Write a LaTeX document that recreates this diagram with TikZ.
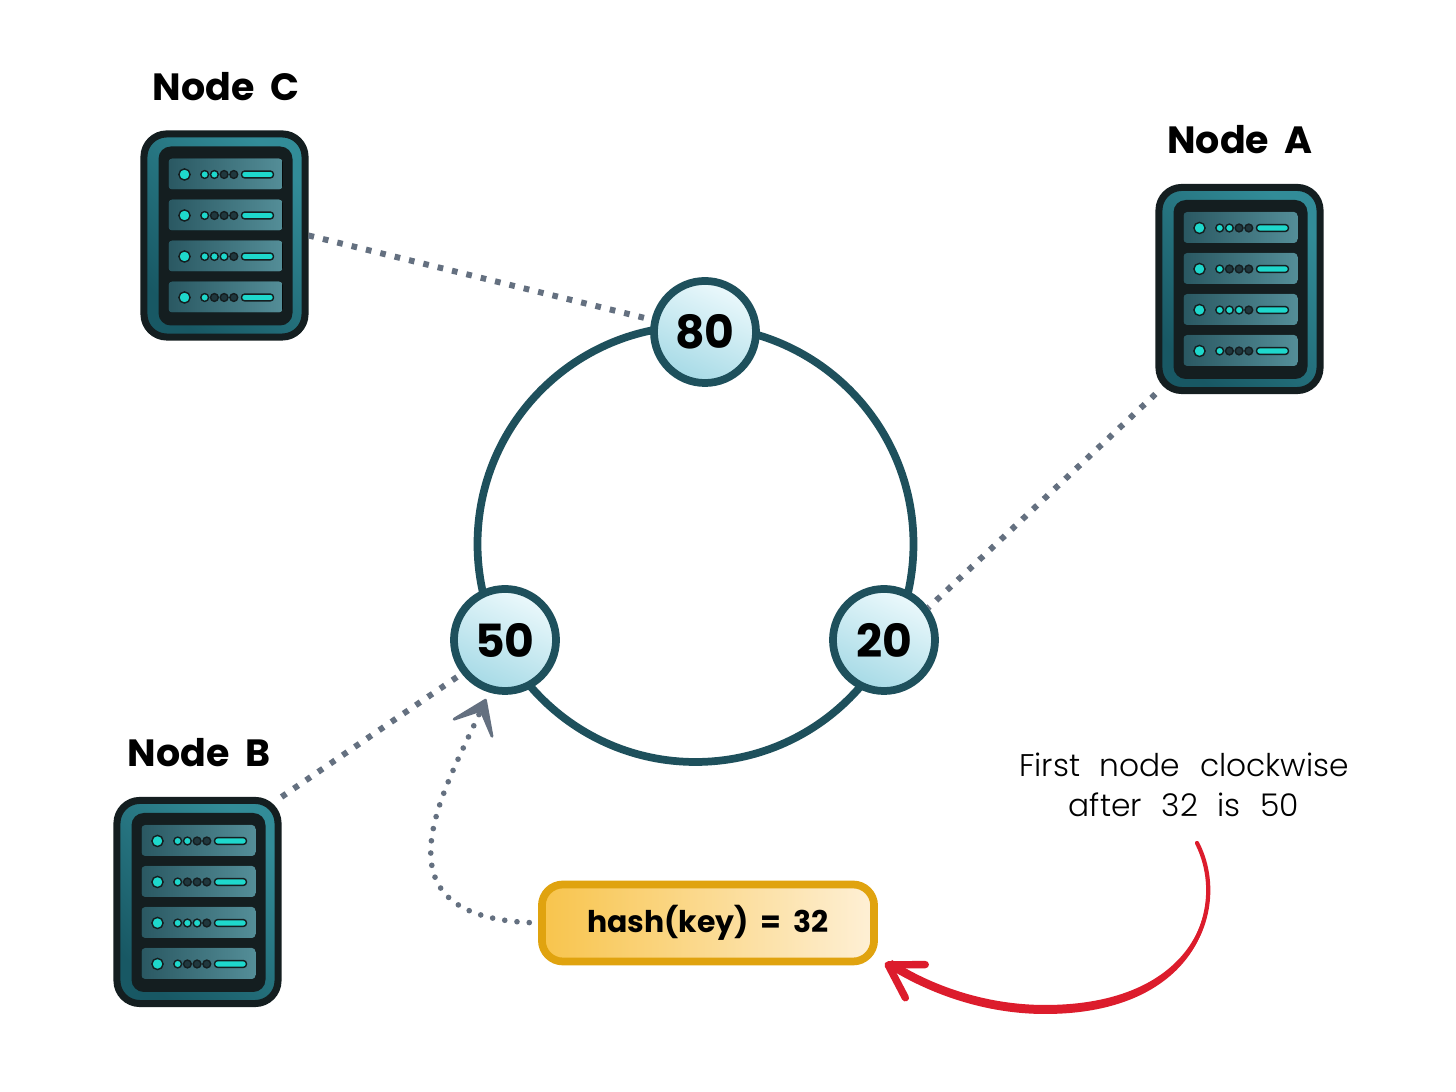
\documentclass[tikz,border=0pt]{standalone}
\usepackage{fontspec}
\setmainfont[WordSpace=1.9]{Poppins}
\newfontfamily\notefont[WordSpace=2.3]{Poppins Light}
\definecolor{ringteal}{RGB}{30,80,92}
\definecolor{linkgray}{RGB}{100,112,128}
\definecolor{rimdark}{RGB}{24,88,100}
\definecolor{rimlight}{RGB}{50,140,152}
\definecolor{rackblack}{RGB}{20,30,32}
\definecolor{unitdark}{RGB}{42,88,98}
\definecolor{unitlight}{RGB}{84,142,152}
\definecolor{ledon}{RGB}{30,216,204}
\definecolor{ledoff}{RGB}{32,56,62}
\definecolor{balllow}{RGB}{166,218,230}
\definecolor{ballhigh}{RGB}{236,249,252}
\definecolor{hashlow}{RGB}{248,196,76}
\definecolor{hashhigh}{RGB}{254,240,214}
\definecolor{hashedge}{RGB}{224,163,15}
\definecolor{notered}{RGB}{220,28,44}
\usetikzlibrary{arrows.meta,positioning,calc}
\tikzset{
  racknode/.style={draw=rackblack,line width=2pt,rounded corners=6.5pt,bottom color=rimdark,top color=rimlight,
    shading angle=-45,minimum width=1.61cm,minimum height=2.03cm,inner sep=0pt},
  ballnode/.style={draw=ringteal,circle,line width=2.2pt,minimum size=1.02cm,inner sep=0pt,
    bottom color=balllow,top color=ballhigh,shading angle=-25,font=\fontsize{13}{13}\selectfont\bfseries},
  titlenode/.style={font=\fontsize{10.8}{12}\selectfont\bfseries,inner sep=0pt},
  linkline/.style={linkgray,line width=1.7pt,dash pattern=on 1.6pt off 2.6pt},
  ledmark/.style={fill=ledon,draw=rackblack,line width=0.4pt},
}
\newcommand{\drawrack}[4]{%
  \node[racknode] (#1) at (#2,#3) {};
  \begin{scope}[shift={(#2,#3)}]
    \fill[rackblack,rounded corners=3.5pt] (-66,-89) rectangle (68,90);
    \foreach \lit [count=\k] in {#4} {
      \pgfmathsetmacro{\yy}{-61+41*(\k-1)}
      \begin{scope}[yshift=-\yy*0.01cm]
        \fill[left color=unitdark,right color=unitlight,rounded corners=1pt] (-56,-16) rectangle (58,15);
        \filldraw[ledmark] (-40,0) circle[radius=5.6];
        \foreach \d in {1,...,4} {
          \ifnum\d>\lit\relax
            \filldraw[ledmark,fill=ledoff] (-29.5+9.7*\d,0) circle[radius=3.9];
          \else
            \filldraw[ledmark] (-29.5+9.7*\d,0) circle[radius=3.9];
          \fi
        }
        \filldraw[ledmark,rounded corners=0.9pt] (17,-3.4) rectangle (49,3.4);
      \end{scope}
    }
  \end{scope}
}

\begin{document}
\begin{tikzpicture}[x=0.01cm,y=-0.01cm]
  \useasboundingbox (0,0) rectangle (1456,1092);
  \fill[white] (0,0) rectangle (1456,1092);
  % Ring
  \coordinate (ringc) at (695.5,544);
  \draw[ringteal,line width=2.2pt] (ringc) circle[radius=218];
  % Servers
  \drawrack{nodeC}{224.5}{235.5}{2,1,3,1}
  \drawrack{nodeA}{1239.5}{289}{2,1,3,1}
  \drawrack{nodeB}{197.5}{902}{2,1,3,1}
  \node[titlenode] (titleC) at (226,87) {Node C};
  \node[titlenode] (titleA) at (1240,140) {Node A};
  \node[titlenode] (titleB) at (199,753) {Node B};
  % Ring positions
  \node[ballnode] (r80) at (705,332) {80};
  \node[ballnode] (r20) at (884,640) {20};
  \node[ballnode] (r50) at (505,640) {50};
  % Dotted links
  \draw[linkline] (nodeC.east) -- (r80.167);
  \draw[linkline] (nodeA.south west) -- (r20.36);
  \draw[linkline] (nodeB.north east) -- (r50.218);
  % Key box
  \node[draw=hashedge,line width=2.2pt,rounded corners=6pt,left color=hashlow,right color=hashhigh,
        minimum width=3.32cm,minimum height=0.77cm,inner sep=0pt,
        font=\fontsize{8.5}{9}\selectfont\bfseries] (hashbox) at (708,923) {hash(key) = 32};
  \draw[linkgray,line width=1.6pt,line cap=round,dash pattern=on 0pt off 3.5pt,
        -{Stealth[length=12pt,width=16.5pt,inset=7.6pt,line width=0.8pt,round]},shorten <=2.5pt,shorten >=2pt]
    (hashbox.west) .. controls (368,915) and (445,790) .. (r50.253);
  % Note and red arrow
  \node[font=\notefont\fontsize{8.9}{11.4}\selectfont,align=center,inner sep=0pt] (note) at (1184,785)
    {First node clockwise\\after 32 is 50};
  \coordinate (notefoot) at (1197,843);
  \coordinate (hashfoot) at (885,963);
  \fill[notered] (notefoot) .. controls (1231,905) and (1199,1014) .. (1045,1014)
    .. controls (985,1014) and (930,994) .. (888,968) -- (892,960)
    .. controls (930,985) and (985,1005) .. (1045,1005)
    .. controls (1195,1005) and (1227,905) .. (notefoot) -- cycle;
  \draw[notered,line width=1.2pt,line cap=round,-{Straight Barb[length=9pt,width=11pt,line width=2.1pt,round]}]
    (notefoot) .. controls (1229,905) and (1197,1010) .. (1045,1010)
    .. controls (985,1010) and (930,990) .. (hashfoot);
\end{tikzpicture}
\end{document}
